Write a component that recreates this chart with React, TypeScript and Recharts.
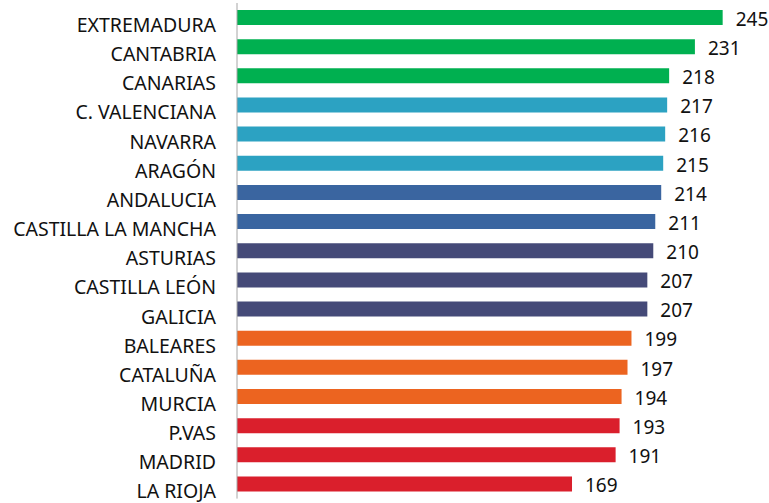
import { BarChart, Bar, XAxis, YAxis, Cell, LabelList } from "recharts";

const regions = [
  "EXTREMADURA",
  "CANTABRIA",
  "CANARIAS",
  "C. VALENCIANA",
  "NAVARRA",
  "ARAGÓN",
  "ANDALUCIA",
  "CASTILLA LA MANCHA",
  "ASTURIAS",
  "CASTILLA LEÓN",
  "GALICIA",
  "BALEARES",
  "CATALUÑA",
  "MURCIA",
  "P.VAS",
  "MADRID",
  "LA RIOJA",
];

const values = [245, 231, 218, 217, 216, 215, 214, 211, 210, 207, 207, 199, 197, 194, 193, 191, 169];

// colour group per region (index into palette)
const groups = [0, 0, 0, 1, 1, 1, 2, 2, 3, 3, 3, 4, 4, 4, 5, 5, 5];
const palette = ["#00B050", "#2CA2C2", "#3A65A0", "#454A78", "#EC6420", "#DA1F2C"];

const data = regions.map((name, i) => ({ name, value: values[i] }));

export default function App() {
  return (
    <div style={{ position: "absolute", left: 0, top: 0, background: "#fff" }}>
      <BarChart
        width={769}
        height={503}
        data={data}
        layout="vertical"
        margin={{ top: 3, right: 16.6, bottom: 4.4, left: 0 }}
        barSize={15}
      >
        <XAxis type="number" domain={[0, 260]} hide />
        <YAxis
          type="category"
          dataKey="name"
          width={237}
          interval={0}
          tickLine={false}
          tickSize={0}
          tickMargin={21}
          axisLine={{ stroke: "#A6A6A6", strokeWidth: 1 }}
          tick={{ fontSize: 19.5, fill: "#111", fontFamily: "Noto Sans", dy: 7.5 }}
        />
        <Bar dataKey="value" isAnimationActive={false}>
          {data.map((d, i) => (
            <Cell key={d.name} fill={palette[groups[i]]} />
          ))}
          <LabelList
            dataKey="value"
            position="right"
            offset={13}
            style={{ fontSize: 19, fill: "#111", fontFamily: "Noto Sans" }}
            dy={1.5}
          />
        </Bar>
      </BarChart>
    </div>
  );
}
